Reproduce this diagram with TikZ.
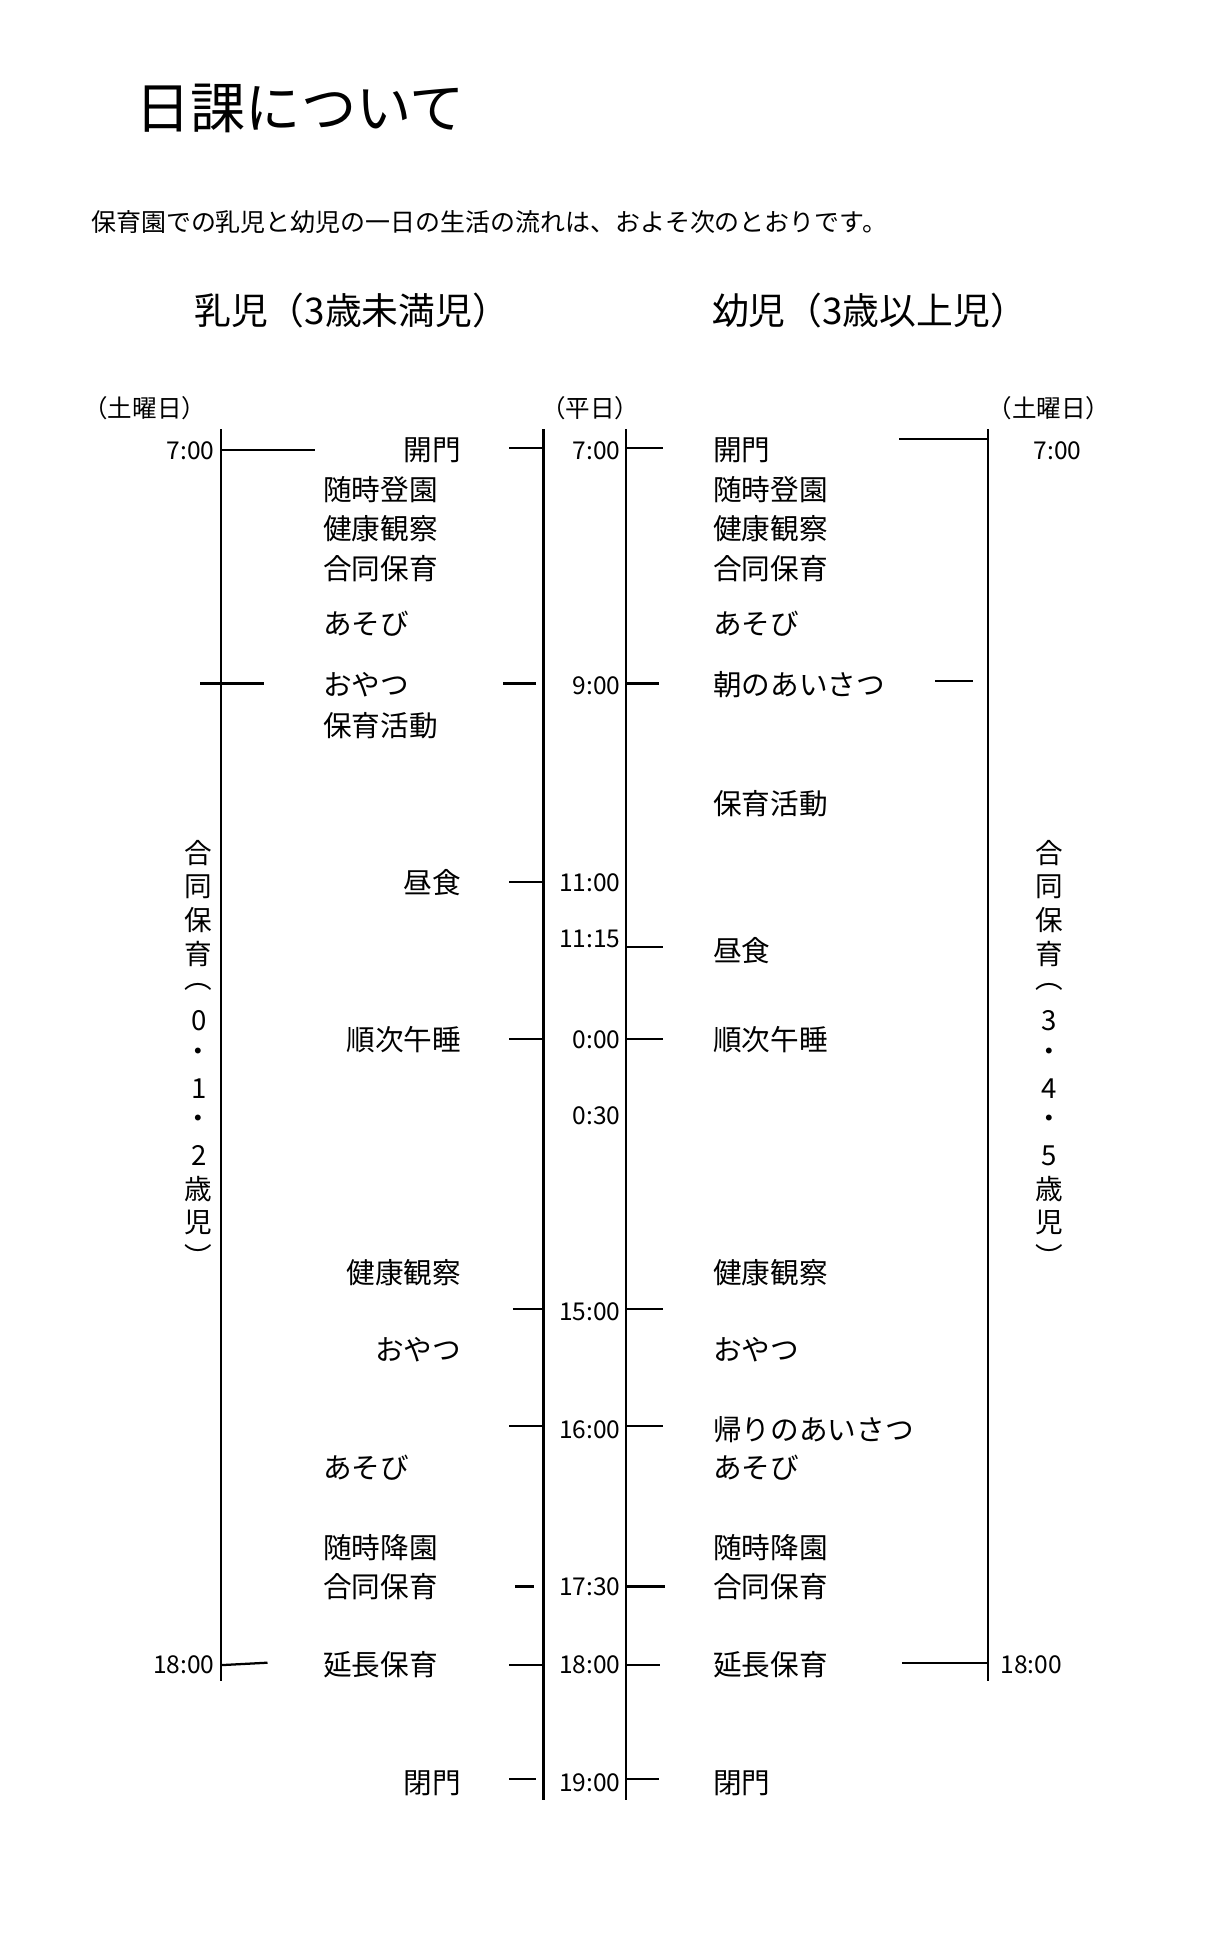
\documentclass[tikz,border=0pt]{standalone}
\usepackage{fontspec}
\setmainfont{Noto Sans CJK JP}
\begin{document}
\begin{tikzpicture}[x=0.6pt,y=-0.6pt,
  ln/.style={line width=1.1pt},
  act/.style={font=\fontsize{14pt}{14pt}\selectfont,inner sep=0pt},
  tm/.style={font=\fontsize{12pt}{12pt}\selectfont,inner sep=0pt},
  vt/.style={font=\fontsize{13.5pt}{13.5pt}\selectfont,inner sep=0pt}]
\useasboundingbox (0,0) rectangle (1000,1581);
\node[anchor=west,inner sep=0pt,font=\fontsize{27pt}{27pt}\selectfont] (title) at (110,88) {日課について};
\node[anchor=west,inner sep=0pt,font=\fontsize{12.2pt}{12pt}\selectfont] (sub) at (74,181) {保育園での乳児と幼児の一日の生活の流れは、およそ次のとおりです。};
\node[anchor=west,inner sep=0pt,font=\fontsize{18pt}{18pt}\selectfont] (h1) at (158,253) {乳児（3歳未満児）};
\node[anchor=west,inner sep=0pt,font=\fontsize{18pt}{18pt}\selectfont] (h2) at (580,253) {幼児（3歳以上児）};
\node[tm] (s1) at (118,333) {（土曜日）};
\node[tm] (s2) at (481,333) {（平日）};
\node[tm] (s3) at (855,333) {（土曜日）};
% lines
\coordinate (La) at (180,350); \coordinate (Lb) at (180,1370);
\coordinate (Ca) at (443,350); \coordinate (Cb) at (443,1467);
\coordinate (Da) at (510,350); \coordinate (Db) at (510,1467);
\coordinate (Ra) at (805,350); \coordinate (Rb) at (805,1370);
\draw[ln] (La)--(Lb); \draw[ln] (Ca)--(Cb); \draw[ln] (Da)--(Db); \draw[ln] (Ra)--(Rb);
% left ticks
\draw[ln] (180,367)--(257,367);
\draw[ln] (163,557)--(215,557);
\draw[ln] (180,1357)--(218,1355);
\node[tm,anchor=east] (l700) at (175,367) {7:00};
\node[tm,anchor=east] (l1800) at (175,1357) {18:00};
% center ticks
\foreach \y/\a/\b in {365/415/443,557/410/437,719/415/443,847/415/443,1067/418/443,1162/415/443,1293/420/435,1357/415/443,1450/415/437}
  \draw[ln] (\a,\y)--(\b,\y);
\foreach \y/\b in {365/540,557/537,772/540,847/540,1067/540,1162/540,1293/542,1357/538,1450/537}
  \draw[ln] (510,\y)--(\b,\y);
\foreach \y/\t in {367/7:00,559/9:00,719/11:00,765/11:15,847/0:00,909/0:30,1069/15:00,1165/16:00,1293/17:30,1357/18:00,1453/19:00}
  \node[tm,anchor=east] at (506,\y) {\t};
% right ticks
\draw[ln] (733,358)--(805,358);
\draw[ln] (762,555)--(793,555);
\draw[ln] (735,1355)--(805,1355);
\node[tm,anchor=west] (r700) at (842,367) {7:00};
\node[tm,anchor=west] (r1800) at (815,1357) {18:00};
% left activities
\foreach \y/\t in {399/随時登園,431/健康観察,463/合同保育,508/あそび,558/おやつ,591/保育活動,1196/あそび,1261/随時降園,1293/合同保育,1357/延長保育}
  \node[act,anchor=west] at (263,\y) {\t};
\foreach \y/\t in {367/開門,719/昼食,847/順次午睡,1037/健康観察,1100/おやつ,1453/閉門}
  \node[act,anchor=east] at (376,\y) {\t};
% right activities
\foreach \y/\t in {367/開門,399/随時登園,431/健康観察,463/合同保育,508/あそび,558/朝のあいさつ,655/保育活動,775/昼食,847/順次午睡,1037/健康観察,1100/おやつ,1165/帰りのあいさつ,1196/あそび,1261/随時降園,1293/合同保育,1357/延長保育,1453/閉門}
  \node[act,anchor=west] at (581,\y) {\t};
% vertical texts
\foreach \i/\c in {0/合,1/同,2/保,3/育,4/︵,5/0,6/・,7/1,8/・,9/2,10/歳,11/児,12/︶}
  \node[vt] at (162,695+27.4*\i) {\c};
\foreach \i/\c in {0/合,1/同,2/保,3/育,4/︵,5/3,6/・,7/4,8/・,9/5,10/歳,11/児,12/︶}
  \node[vt] at (855,695+27.4*\i) {\c};
\end{tikzpicture}
\end{document}
